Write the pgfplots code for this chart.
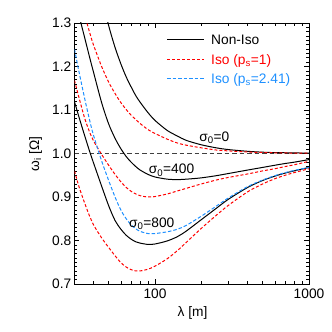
\documentclass[border=0pt]{standalone}
\usepackage{fontspec}
\setmainfont{Liberation Sans}
\usepackage{pgfplots}
\pgfplotsset{compat=1.18}
\usepackage{pgfplotstable}
\definecolor{myred}{RGB}{255,0,0}
\definecolor{myblue}{RGB}{30,144,255}

\pgfplotstableread{
lam   b0     r0     b4     r4     b8     u8     r8
30    1.797  1.422  1.370  1.168  1.119  1.240  0.960
32    1.702  1.375  1.320  1.130  1.085  1.190  0.925
35    1.590  1.318  1.265  1.080  1.040  1.125  0.885
38    1.502  1.273  1.215  1.045  1.000  1.070  0.852
40    1.455  1.248  1.185  1.028  0.977  1.040  0.835
45    1.361  1.200  1.117  0.998  0.925  0.983  0.806
50    1.294  1.164  1.068  0.973  0.880  0.938  0.784
55    1.244  1.138  1.035  0.952  0.846  0.900  0.765
60    1.206  1.117  1.011  0.935  0.826  0.870  0.749
65    1.176  1.101  0.993  0.922  0.812  0.850  0.739
70    1.153  1.088  0.980  0.913  0.803  0.836  0.733
75    1.133  1.078  0.970  0.907  0.797  0.827  0.730
80    1.118  1.069  0.962  0.903  0.794  0.821  0.730
90    1.094  1.055  0.952  0.900  0.791  0.816  0.734
100   1.076  1.046  0.946  0.901  0.792  0.816  0.741
120   1.053  1.033  0.941  0.907  0.799  0.820  0.758
140   1.040  1.024  0.940  0.914  0.809  0.826  0.777
160   1.030  1.019  0.941  0.920  0.822  0.835  0.796
200   1.020  1.013  0.944  0.930  0.848  0.856  0.828
250   1.013  1.008  0.949  0.939  0.874  0.879  0.858
300   1.009  1.006  0.954  0.945  0.895  0.898  0.881
400   1.005  1.0035 0.962  0.953  0.922  0.924  0.912
500   1.003  1.0023 0.968  0.960  0.938  0.939  0.930
600   1.002  1.0017 0.973  0.965  0.948  0.949  0.942
700   1.0017 1.0012 0.977  0.970  0.955  0.956  0.950
800   1.0013 1.0010 0.980  0.974  0.960  0.961  0.956
1000  1.0009 1.0006 0.986  0.982  0.968  0.968  0.965
}\data

\begin{document}
\begin{tikzpicture}[font=\fontsize{13.8}{16}\selectfont]
\path[use as bounding box] (-74.5bp,-48bp) rectangle (257.5bp,284bp);
\begin{axis}[
  scale only axis, width=234.5bp, height=261bp,
  xmode=log, log basis x=10,
  xmin=30, xmax=1000, ymin=0.7, ymax=1.3,
  xtick={100,1000}, xticklabels={100,1000},
  minor xtick={30,40,50,60,70,80,90,200,300,400,500,600,700,800,900},
  ytick={0.7,0.8,0.9,1.0,1.1,1.2,1.3},
  minor y tick num=9,
  /pgf/number format/assume math mode=true,
  y tick label style={/pgf/number format/.cd, fixed, fixed zerofill, precision=1, /tikz/.cd, anchor=east, inner sep=0pt, xshift=-3bp},
  x tick label style={anchor=north, inner sep=0pt, yshift=-5bp},
  major tick length=5bp, minor tick length=3bp,
  every tick/.style={black, line width=0.6bp},
  axis line style={line width=0.8bp},
  tick align=inside,
]
\addplot[black!75, line width=0.9bp, dash pattern=on 4.5bp off 3bp] coordinates {(30,1) (1000,1)};
\addplot[black, line width=1bp, smooth] table[x=lam, y=b0] {\data};
\addplot[black, line width=1bp, smooth] table[x=lam, y=b4] {\data};
\addplot[black, line width=1bp, smooth] table[x=lam, y=b8] {\data};
\addplot[myred, line width=1bp, smooth, dash pattern=on 3bp off 2bp] table[x=lam, y=r0] {\data};
\addplot[myred, line width=1bp, smooth, dash pattern=on 3bp off 2bp] table[x=lam, y=r4] {\data};
\addplot[myred, line width=1bp, smooth, dash pattern=on 3bp off 2bp] table[x=lam, y=r8] {\data};
\addplot[myblue, line width=1bp, smooth, dash pattern=on 3.5bp off 2bp] table[x=lam, y=u8] {\data};
\node[anchor=base] at (axis cs:242.7,1.0271) {σ\textsubscript{0}=0};
\node[anchor=base] at (axis cs:128,0.953) {σ\textsubscript{0}=400};
\node[anchor=base] at (axis cs:95.2,0.8294) {σ\textsubscript{0}=800};
\end{axis}
% axis labels
\node[anchor=center, inner sep=0pt] at (118bp,-28.5bp) {λ [m]};
\node[anchor=center, inner sep=0pt, rotate=90] at (-39bp,130bp) {ω\textsubscript{i} [Ω]};
% legend
\draw[black, line width=1.1bp] (92.5bp,244.5bp) -- (129.5bp,244.5bp);
\draw[myred, line width=1.1bp, dash pattern=on 3bp off 2bp] (92.5bp,224.5bp) -- (129.5bp,224.5bp);
\draw[myblue, line width=1.1bp, dash pattern=on 3.5bp off 2bp] (92.5bp,205.5bp) -- (129.5bp,205.5bp);
\node[anchor=base west, inner sep=0pt] at (136.5bp,239.2bp) {Non-Iso};
\node[anchor=base west, inner sep=0pt, text=myred] at (136.5bp,219.2bp) {Iso (p\textsubscript{s}=1)};
\node[anchor=base west, inner sep=0pt, text=myblue] at (136.5bp,200.5bp) {Iso (p\textsubscript{s}=2.41)};
\end{tikzpicture}
\end{document}
